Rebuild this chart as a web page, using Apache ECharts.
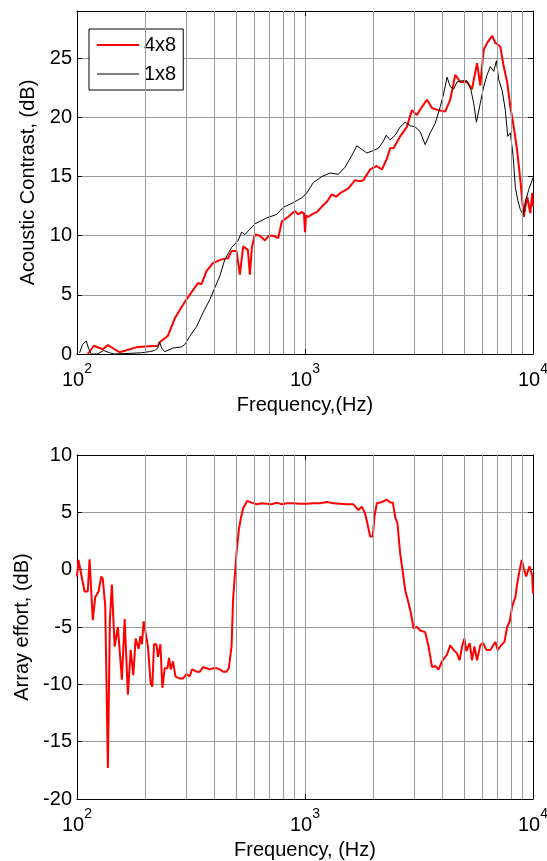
<!DOCTYPE html>
<html>
<head>
    <meta charset="utf-8">
    <title>Acoustic Contrast / Array effort</title>
    <script src="https://cdn.jsdelivr.net/npm/echarts@6.0.0/dist/echarts.min.js"></script>
    <style>
        html, body { margin: 0; padding: 0; background: #fff; }
        #chart { width: 547px; height: 861px; }
    </style>
</head>
<body>
    <div id="chart"></div>

    <script>
        // top plot, 4x8 array (red)
        const freq4x8 = [111.5, 118.5, 129.8, 136.6, 146.2, 153.8, 185.0, 226.5, 230.4, 250.6, 268.3, 296.8,
            322.8, 339.6, 351.6, 369.8, 395.5, 430.3, 460, 476.2, 501, 518, 535.6, 561.8, 573.2, 584.8, 603,
            634.3, 667.3, 694.7, 725.6, 763.5, 790.6, 844.9, 903.7, 931.6, 967.1, 989.9, 1000, 1010, 1034,
            1073, 1126, 1204, 1250, 1310, 1369, 1425, 1549, 1659, 1745, 1803, 1930, 2066, 2173, 2285, 2363,
            2445, 2615, 2798, 2943, 3096, 3258, 3427, 3606, 3855, 4121, 4335, 4560, 4797, 5136, 5403, 5684,
            5872, 6077, 6292, 6619, 6834, 7189, 7440, 7702, 7954, 8232, 8520, 8801, 9111, 9430, 9738, 9920, 10000];
        const contrast4x8 = [0, 0.7, 0.4, 0.75, 0.4, 0.15, 0.6, 0.7, 1.0, 1.55, 3.0, 4.4,
            5.4, 6.0, 5.9, 7.0, 7.7, 8.0, 8.1, 8.7, 8.7, 6.7, 9.1, 8.8, 6.7, 9.0, 10.1,
            10.0, 9.6, 10.0, 10.0, 9.8, 11.2, 11.6, 12.1, 11.8, 12.0, 11.9, 10.3, 11.7, 11.6,
            11.8, 12.0, 12.6, 12.9, 13.5, 13.3, 13.6, 14.0, 14.7, 14.6, 14.7, 15.6, 15.9, 15.6, 16.5, 17.4,
            17.4, 18.4, 19.2, 20.6, 20.2, 20.9, 21.5, 20.8, 20.6, 20.5, 21.5, 23.6, 23.0, 23.0, 22.4, 24.6,
            22.7, 25.7, 26.3, 26.9, 26.3, 26.0, 24.3, 23.0, 20.9, 19.2, 17.2, 14.7, 11.6, 13.3, 11.9, 13.6, 12.5];

        // top plot, 1x8 array (black)
        const freq1x8 = [102.6, 105.7, 109.7, 112.3, 115.5, 123.0, 130.8, 139, 146.2, 191.5, 208.3, 219.1,
            225.9, 230.4, 235.2, 242.4, 263.7, 287.1, 296.8, 312.3, 334.2, 357.3, 382.3, 402.2, 423.1, 445.1,
            476.2, 509, 527.2, 545, 603, 678.7, 751, 803, 888.5, 967.1, 1017, 1088, 1184, 1288, 1401, 1499,
            1605, 1688, 1776, 1867, 1996, 2100, 2209, 2270, 2363, 2486, 2615, 2751, 2893, 3043, 3200, 3366,
            3541, 3725, 3918, 4055, 4198, 4335, 4487, 4642, 4886, 5136, 5348, 5495, 5646, 5872, 6077, 6292,
            6497, 6726, 6912, 7072, 7321, 7562, 7748, 7954, 8185, 8367, 8574, 8801, 9057, 9258, 9583, 10000];
        const contrast1x8 = [0.1, 0.8, 1.1, 0.5, 0, 0, 0.3, 0.1, 0, 0.1, 0.2, 0.3,
            0.5, 1.0, 0.5, 0.2, 0.5, 0.6, 0.8, 1.5, 2.3, 3.5, 4.6, 5.6, 6.6, 8.0,
            9.0, 9.6, 10.3, 10.1, 11.0, 11.5, 11.8, 12.4, 12.8, 13.2, 13.6, 14.5, 15.0, 15.3, 15.2, 15.8,
            16.8, 17.6, 17.3, 17.0, 17.2, 17.4, 18.0, 18.5, 18.1, 18.5, 19.2, 19.6, 19.3, 19.2, 18.8, 17.7,
            18.7, 19.5, 20.9, 22.0, 23.4, 22.6, 22.4, 23.0, 23.1, 23.1, 22.3, 21.2, 19.6, 21.2, 22.6, 23.6,
            24.3, 23.9, 24.8, 23.2, 22.3, 20.6, 18.4, 18.7, 16.7, 14.1, 13.0, 12.2, 11.8, 12.9, 13.9, 14.9];

        // bottom plot, array effort (red)
        const freqEffort = [100, 101.5, 107.9, 111.5, 113.5, 117.3, 120.2, 124.3, 127.8, 129.8, 133.0, 136.6,
            139.4, 142.2, 146.2, 151.1, 157.4, 161.8, 164.6, 167.2, 171.9, 176.6, 180.8, 186.4, 189.6, 192.7,
            196.0, 199.4, 204.7, 210.4, 214.0, 217.6, 222.9, 226.5, 232.1, 236.8, 242.4, 249.2, 253.3, 257.6,
            263.7, 270.2, 282.2, 291.7, 302, 312.3, 319.6, 334.2, 345.6, 357.3, 369.8, 382.3, 395.5, 409.3,
            423.1, 437.4, 452.6, 463.1, 476.2, 484, 501, 512.8, 523.3, 535.6, 557.8, 583.2, 613.5, 645.2,
            678.7, 713.9, 751, 790.6, 831.6, 888.5, 950.6, 1017, 1088, 1164, 1246, 1332, 1425, 1525, 1631,
            1715, 1776, 1835, 1879, 1930, 1984, 2016, 2066, 2173, 2285, 2363, 2429, 2486, 2545, 2615, 2689,
            2751, 2845, 2915, 2992, 3096, 3200, 3366, 3483, 3606, 3725, 3855, 3989, 4198, 4335, 4487, 4642,
            4764, 4886, 5000, 5102, 5276, 5403, 5534, 5684, 5872, 6040, 6247, 6497, 6834, 7001, 7248, 7495,
            7702, 7907, 8101, 8367, 8574, 8750, 8929, 9111, 9333, 9652, 9920, 10000];
        const effort = [-0.6, 0.85, -1.9, -1.9, 0.9, -4.4, -2.4, -1.9, -0.6, -0.8, -3.2, -17.3,
            -4.4, -1.3, -6.7, -5.0, -9.6, -4.3, -4.2, -10.9, -7.0, -9.2, -6.0, -6.9, -5.8, -6.5,
            -4.5, -4.4, -6.7, -9.9, -10.2, -6.5, -6.5, -7.6, -6.5, -10.3, -8.6, -8.6, -7.7, -8.7,
            -8.0, -9.3, -9.5, -9.5, -9.1, -9.3, -8.7, -8.9, -8.9, -8.5, -8.6, -8.7, -8.6, -8.6,
            -8.7, -8.9, -8.9, -8.6, -6.7, -2.5, 1.5, 3.5, 4.5, 5.35, 6.0, 5.85, 5.7, 5.8,
            5.75, 5.7, 5.85, 5.7, 5.8, 5.8, 5.75, 5.75, 5.8, 5.8, 5.9, 5.8, 5.75, 5.7, 5.7,
            5.2, 5.5, 4.9, 4.0, 2.9, 2.9, 4.6, 5.8, 5.9, 6.1, 5.85, 5.85, 4.6, 4.0, 1.4, -0.3,
            -1.8, -2.9, -3.8, -5.1, -5.0, -5.3, -5.45, -6.7, -8.5, -8.4, -8.7, -8.0, -7.4, -6.6, -7.0, -7.3,
            -7.9, -6.7, -6.0, -7.1, -6.4, -7.9, -6.7, -7.9, -6.6, -6.4, -7.0, -7.0, -6.3, -7.0, -6.6, -6.3,
            -5.0, -4.5, -3.2, -2.4, -0.9, 0, 0.85, 0.1, -0.6, 0.3, -0.5, -2.1];

        // minor log grid lines
        const minorFreqs = [200, 300, 400, 500, 600, 700, 800, 900,
            2000, 3000, 4000, 5000, 6000, 7000, 8000, 9000];

        const FONT = 'Liberation Sans';
        const gridStyle = { color: '#9a9a9a', width: 1, type: 'solid' };

        function pairs(xs, ys) {
            return xs.map((x, i) => [x, ys[i]]);
        }

        function logXAxis(gridIndex, name, showLabels) {
            return {
                type: 'log', logBase: 10, gridIndex: gridIndex,
                min: 100, max: 10000,
                position: showLabels ? 'bottom' : 'top',
                name: showLabels ? name : '',
                nameLocation: 'middle', nameGap: 41,
                nameTextStyle: { fontFamily: FONT, fontSize: 20, color: '#000' },
                axisLine: { show: true, onZero: false, lineStyle: { color: '#000', width: 1 } },
                axisTick: { show: true, inside: true, length: 5, lineStyle: { color: '#000' } },
                axisLabel: {
                    show: showLabels, margin: 8,
                    formatter: v => '{b|10}{s|' + Math.round(Math.log10(v)) + '}',
                    rich: {
                        b: { fontFamily: FONT, fontSize: 20, color: '#000', verticalAlign: 'bottom' },
                        s: { fontFamily: FONT, fontSize: 14, color: '#000', verticalAlign: 'top', padding: [0, 0, 14, 0] }
                    }
                },
                splitLine: { show: showLabels, lineStyle: gridStyle }
            };
        }

        function valYAxis(gridIndex, min, max, name, nameGap, showLabels) {
            return {
                type: 'value', gridIndex: gridIndex, min: min, max: max, interval: 5,
                position: showLabels ? 'left' : 'right',
                name: showLabels ? name : '',
                nameLocation: 'middle', nameGap: nameGap,
                nameTextStyle: { fontFamily: FONT, fontSize: 20, color: '#000' },
                axisLine: { show: true, onZero: false, lineStyle: { color: '#000', width: 1 } },
                axisTick: { show: true, inside: true, length: 5, lineStyle: { color: '#000' } },
                axisLabel: {
                    show: showLabels, margin: 5, showMaxLabel: max % 5 === 0,
                    fontFamily: FONT, fontSize: 20, color: '#000'
                },
                splitLine: { show: showLabels, lineStyle: gridStyle }
            };
        }

        function minorGrid(xi, yi) {
            return {
                type: 'line', xAxisIndex: xi, yAxisIndex: yi, data: [], z: 1, silent: true,
                markLine: {
                    silent: true, symbol: ['none', 'none'], animation: false,
                    label: { show: false },
                    lineStyle: gridStyle,
                    data: minorFreqs.map(f => ({ xAxis: f }))
                }
            };
        }

        const chart = echarts.init(document.getElementById('chart'));
        chart.setOption({
            animation: false,
            backgroundColor: '#fff',
            textStyle: { fontFamily: FONT },
            grid: [
                { left: 77, right: 14, top: 11, height: 343, containLabel: false, outerBoundsMode: 'none' },
                { left: 77, right: 14, top: 455, height: 344, containLabel: false, outerBoundsMode: 'none' }
            ],
            legend: {
                data: [
                    { name: '4x8', icon: 'path://M0,0H42V2H0Z' },
                    { name: '1x8', icon: 'path://M0,0H42V1H0Z' }
                ],
                orient: 'vertical', left: 89, top: 29,
                padding: [6, 7, 6, 8], itemGap: 9,
                itemWidth: 42, itemHeight: 14,
                backgroundColor: '#fff', borderColor: '#000', borderWidth: 1,
                textStyle: { fontFamily: FONT, fontSize: 20, color: '#000' }
            },
            xAxis: [
                logXAxis(0, 'Frequency,(Hz)', true),
                logXAxis(0, '', false),
                logXAxis(1, 'Frequency, (Hz)', true),
                logXAxis(1, '', false)
            ],
            yAxis: [
                valYAxis(0, 0, 29, 'Acoustic Contrast, (dB)', 38, true),
                valYAxis(0, 0, 29, '', 0, false),
                valYAxis(1, -20, 10, 'Array effort, (dB)', 45, true),
                valYAxis(1, -20, 10, '', 0, false)
            ],
            series: [
                minorGrid(0, 0),
                minorGrid(2, 2),
                {
                    name: '4x8', type: 'line', xAxisIndex: 0, yAxisIndex: 0,
                    data: pairs(freq4x8, contrast4x8),
                    symbol: 'none', color: '#ff0000',
                    lineStyle: { color: '#ff0000', width: 2 }
                },
                {
                    name: '1x8', type: 'line', xAxisIndex: 0, yAxisIndex: 0,
                    data: pairs(freq1x8, contrast1x8),
                    symbol: 'none', color: '#000',
                    lineStyle: { color: '#000', width: 1 }
                },
                {
                    name: 'effort', type: 'line', xAxisIndex: 2, yAxisIndex: 2,
                    data: pairs(freqEffort, effort),
                    symbol: 'none', color: '#ff0000',
                    lineStyle: { color: '#ff0000', width: 2 }
                }
            ]
        });
    </script>
</body>
</html>
